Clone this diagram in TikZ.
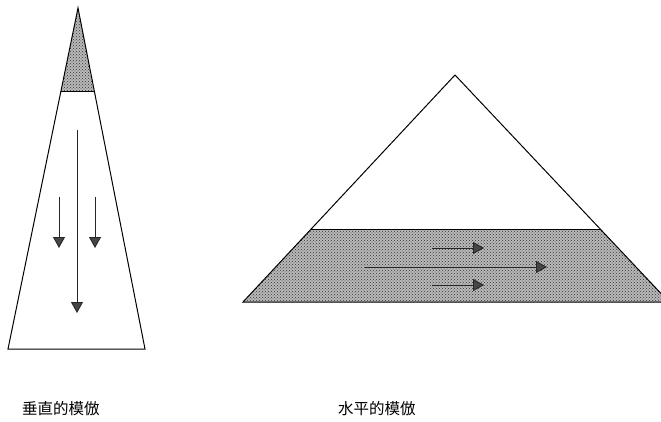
\documentclass[tikz,border=0pt]{standalone}
\usepackage{fontspec}
\newfontfamily\cjk{Noto Sans CJK JP}
\usetikzlibrary{arrows.meta,patterns}
\begin{document}
\begin{tikzpicture}[x=1pt,y=-1pt,
  outline/.style={draw=black,line width=1pt,line join=miter},
  shadebase/.style={fill=gray!55},
  shadedots/.style={pattern=crosshatch dots,pattern color=black!80},
  flow/.style={draw=black!85,line width=0.9pt,-{Triangle[length=11pt,width=12pt,fill=gray!55!black]}},
  label/.style={font=\cjk\fontsize{15.5}{18}\selectfont,inner sep=0pt}]
\useasboundingbox (0,0) rectangle (661,422);
% left (vertical) triangle
\coordinate (LA) at (78,8);
\coordinate (LL) at (61,92);
\coordinate (LR) at (94,92);
\coordinate (LBL) at (8,349);
\coordinate (LBR) at (145,349);
\fill[shadebase] (LA) -- (LR) -- (LL) -- cycle;
\fill[shadedots] (LA) -- (LR) -- (LL) -- cycle;
\draw[outline] (LA) -- (LBR) -- (LBL) -- cycle;
\draw[outline] (LL) -- (LR);
\coordinate (v1s) at (77,130); \coordinate (v1e) at (77,313);
\coordinate (v2s) at (59,197); \coordinate (v2e) at (59,248);
\coordinate (v3s) at (95,197); \coordinate (v3e) at (95,248);
\draw[flow] (v1s) -- (v1e);
\draw[flow] (v2s) -- (v2e);
\draw[flow] (v3s) -- (v3e);
% right (horizontal) triangle
\begin{scope}
\clip (0,0) rectangle (661,422);
\coordinate (RA) at (455,75);
\coordinate (RL) at (311,229);
\coordinate (RR) at (600,229);
\coordinate (RBL) at (243,302);
\coordinate (RBR) at (669,302);
\fill[shadebase] (RL) -- (RR) -- (RBR) -- (RBL) -- cycle;
\fill[shadedots] (RL) -- (RR) -- (RBR) -- (RBL) -- cycle;
\draw[outline] (RA) -- (RBR) -- (RBL) -- cycle;
\draw[outline] (RL) -- (RR);
\end{scope}
\coordinate (h1s) at (432,248); \coordinate (h1e) at (484,248);
\coordinate (h2s) at (365,267); \coordinate (h2e) at (547,267);
\coordinate (h3s) at (432,285); \coordinate (h3e) at (484,285);
\draw[flow] (h1s) -- (h1e);
\draw[flow] (h2s) -- (h2e);
\draw[flow] (h3s) -- (h3e);
% labels
\node[label,anchor=west] (t1) at (22,409) {垂直的模倣};
\node[label,anchor=west] (t2) at (338,409) {水平的模倣};
\end{tikzpicture}
\end{document}
